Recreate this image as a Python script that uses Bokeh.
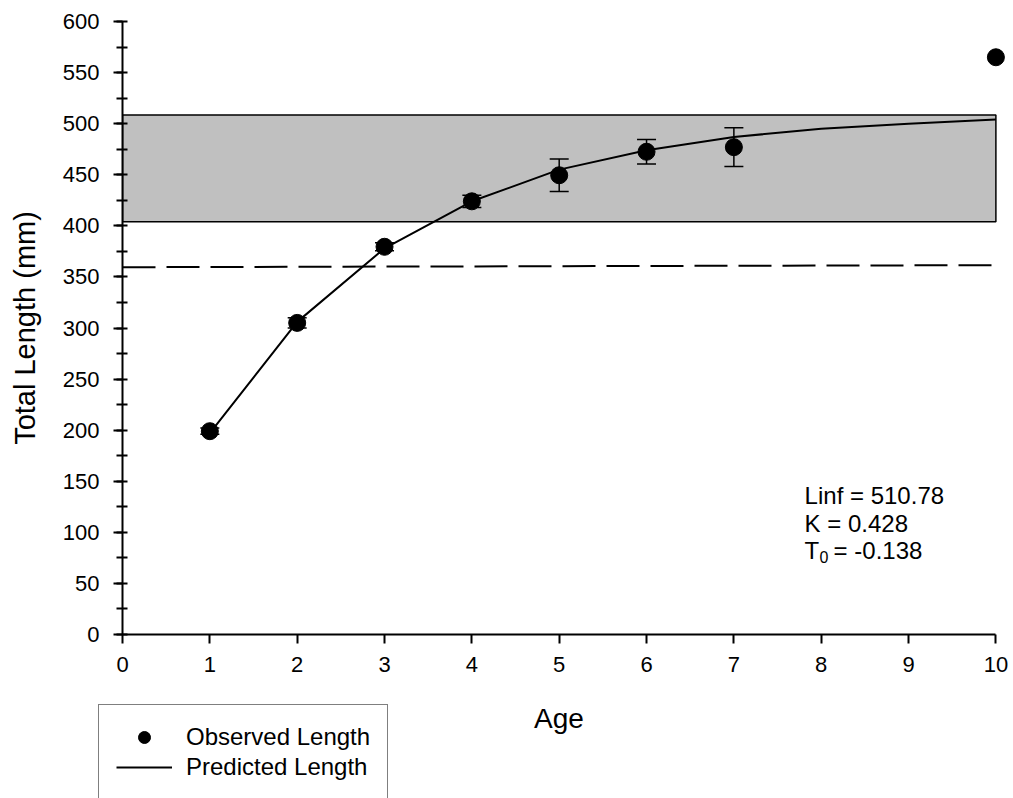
from bokeh.plotting import figure
from bokeh.layouts import column
from bokeh.models import (Range1d, SingleIntervalTicker, ColumnDataSource, Whisker, TeeHead,
                          Legend, LegendItem, Label)
from bokeh.embed import file_html
from bokeh.resources import INLINE

# ---- data ----
obs_age = [1, 2, 3, 4, 5, 6, 7, 10]
obs_len = [199, 305, 379.5, 424, 449.5, 472.5, 477, 565]
obs_err = [3, 5, 4, 6, 16, 12, 19, 0]

pred_age = [1, 2, 3, 4, 5, 6, 7, 8, 9, 10]
pred_len = [197, 306, 378, 424, 455, 474, 487, 495, 500, 504]

band_lo, band_hi = 404, 508.5          # shaded range
ref_x = [0, 10]
ref_y = [359.5, 361.5]                 # dashed reference line

x_title = "Age"
y_title = "Total Length (mm)"
legend_labels = ["Observed Length", "Predicted Length"]
param_lines = ["Linf = 510.78", "K = 0.428"]
t0_main, t0_sub, t0_rest = "T", "0", "= -0.138"

FONT = "Liberation Sans"

p = figure(width=1010, height=704, x_range=Range1d(0, 10.11), y_range=Range1d(0, 600),
           output_backend="svg", toolbar_location=None,
           min_border_left=122, min_border_right=5, min_border_top=21, min_border_bottom=70)
p.outline_line_color = None
p.grid.visible = False
p.background_fill_color = "white"

# shaded band
p.quad(left=[0], right=[10], bottom=[band_lo], top=[band_hi],
       fill_color="#c0c0c0", line_color="black", line_width=1.5)

# dashed line
p.line(ref_x, ref_y, line_color="black", line_width=2, line_dash="33 11")

# predicted line
p.line(pred_age, pred_len, line_color="black", line_width=2)

# error bars
wa = [a for a, e in zip(obs_age, obs_err) if e > 0]
wl = [l for l, e in zip(obs_len, obs_err) if e > 0]
we = [e for e in obs_err if e > 0]
wsrc = ColumnDataSource(dict(base=wa, upper=[l + e for l, e in zip(wl, we)],
                             lower=[l - e for l, e in zip(wl, we)]))
wh = Whisker(base="base", upper="upper", lower="lower", source=wsrc, dimension="height",
             line_color="black", line_width=1.5, level="overlay",
             upper_head=TeeHead(size=19, line_color="black", line_width=1.5),
             lower_head=TeeHead(size=19, line_color="black", line_width=1.5))
p.add_layout(wh)

p.scatter(obs_age, obs_len, size=17, fill_color="black", line_color="black")

# axes
p.xaxis.ticker = SingleIntervalTicker(interval=1, num_minor_ticks=0)
p.yaxis.ticker = SingleIntervalTicker(interval=50, num_minor_ticks=2)
p.xaxis.bounds = (0, 10)
for ax in (p.xaxis[0], p.yaxis[0]):
    ax.axis_line_color = "black"
    ax.axis_line_width = 2
    ax.major_tick_line_color = "black"
    ax.major_tick_line_width = 2
    ax.major_tick_out = 9
    ax.major_tick_in = 0
    ax.major_label_text_font = FONT
    ax.major_label_text_font_size = "22px"
    ax.major_label_text_color = "black"
    ax.axis_label_text_font = FONT
    ax.axis_label_text_font_size = "29px"
    ax.axis_label_text_font_style = "normal"
    ax.axis_label_text_color = "black"
p.yaxis.minor_tick_line_color = "black"
p.yaxis.minor_tick_line_width = 2
p.yaxis.minor_tick_out = 6
p.yaxis.minor_tick_in = 5
p.xaxis.minor_tick_line_color = None
p.yaxis.axis_label = y_title
p.xaxis.major_label_standoff = 13
p.yaxis.major_label_standoff = 14
p.yaxis.axis_label_standoff = 19

# parameter text
txt = dict(text_font=FONT, text_baseline="middle", text_color="black")
p.add_layout(Label(x=7.81, y=135.6, text=param_lines[0], text_font_size="24px", **txt))
p.add_layout(Label(x=7.81, y=109.1, text=param_lines[1], text_font_size="24px", **txt))
p.add_layout(Label(x=7.81, y=82.7, text=t0_main, text_font_size="24px", **txt))
p.add_layout(Label(x=7.81, y=82.7, x_offset=15, y_offset=-7, text=t0_sub,
                   text_font_size="16px", **txt))
p.add_layout(Label(x=7.81, y=82.7, x_offset=29, text=t0_rest, text_font_size="24px", **txt))

# ---- lower strip: x-axis title and legend ----
q = figure(width=1010, height=94, x_range=Range1d(0, 1), y_range=Range1d(0, 1),
           output_backend="svg", toolbar_location=None,
           x_axis_location=None, y_axis_location=None,
           min_border_left=0, min_border_right=0, min_border_top=0, min_border_bottom=0)
q.frame_align = False
p.frame_align = False
q.outline_line_color = None
q.grid.visible = False

q.add_layout(Label(x=558.5, y=80, x_units="screen", y_units="screen", text=x_title,
                   text_font=FONT, text_font_size="28px", text_align="center",
                   text_baseline="middle", text_color="black"))

obs_proxy = q.scatter([-5], [-5], size=17, fill_color="black", line_color="black")
pred_proxy = q.line([-5, -4], [-5, -5], line_color="black", line_width=2)

legend = Legend(items=[LegendItem(label=legend_labels[0], renderers=[obs_proxy]),
                       LegendItem(label=legend_labels[1], renderers=[pred_proxy])],
                location=(98, -2), padding=17, spacing=0, margin=0,
                glyph_width=56, glyph_height=30, label_height=30, label_standoff=14,
                label_text_font=FONT, label_text_font_size="24px", label_text_color="black",
                border_line_color="black", border_line_width=1.5,
                background_fill_color="white", background_fill_alpha=1)
q.add_layout(legend, "center")

open("out.html", "w").write(file_html(column(p, q), INLINE))
